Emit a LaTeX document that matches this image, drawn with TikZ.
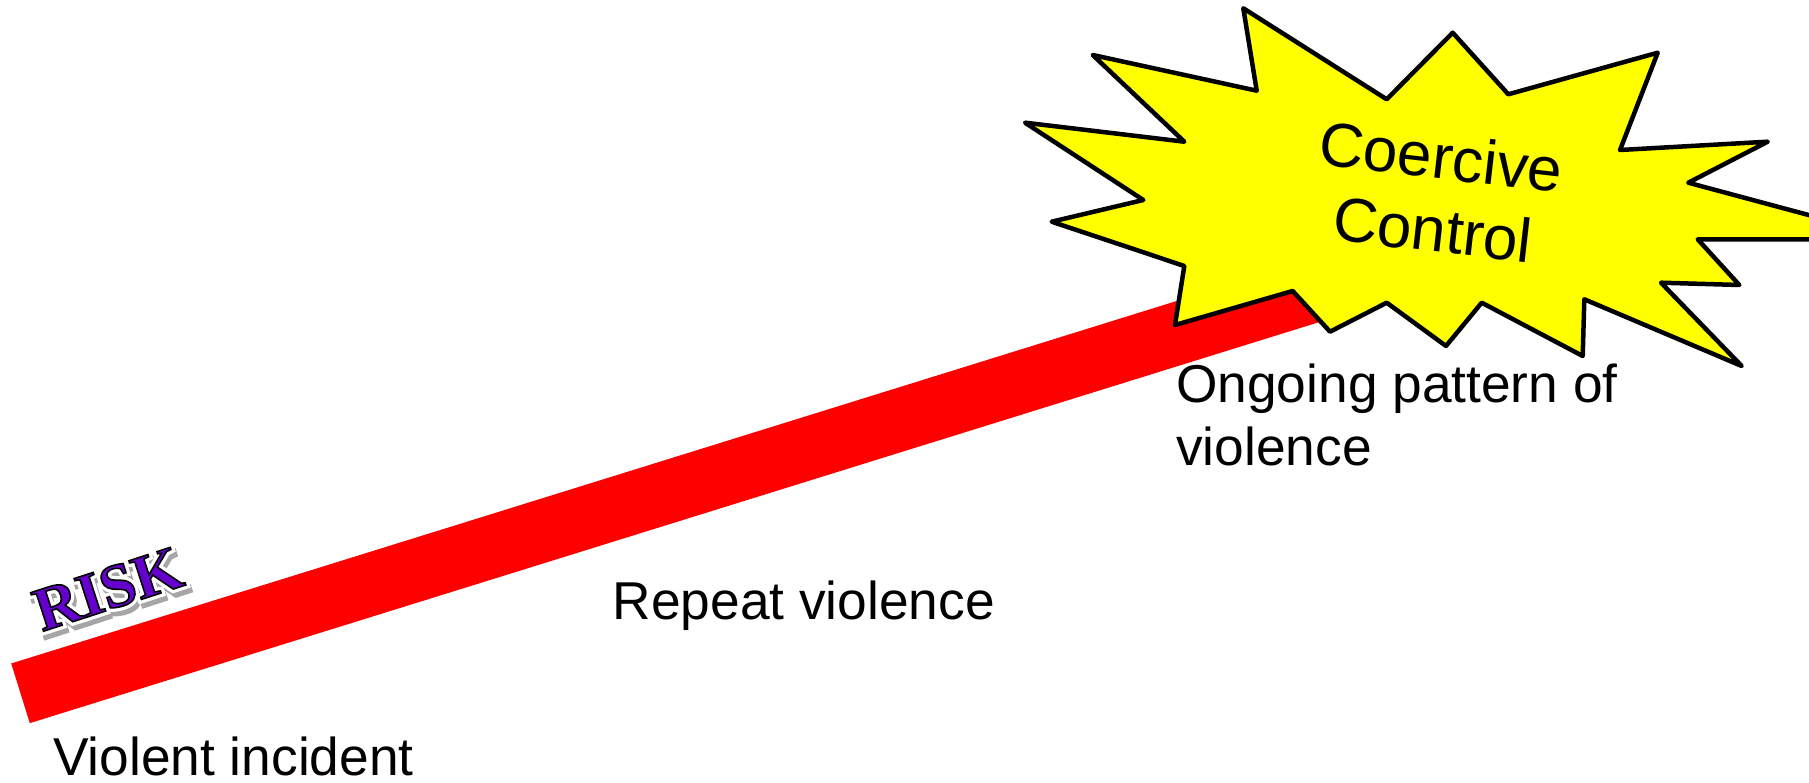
\documentclass[tikz,border=0pt]{standalone}
\usepackage{fontspec}
\setmainfont{Liberation Sans}
\newfontfamily\riskfont{Liberation Serif}
\usepackage{xcolor}
\usepackage{tikz}
\usetikzlibrary{positioning}

\definecolor{barred}{RGB}{255,0,0}
\definecolor{burst}{RGB}{255,255,0}
\definecolor{riskpurple}{RGB}{102,0,204}

% outlined text: stroke colour, line width, render mode
\newcommand{\strokedtext}[4]{%
  \special{pdf:literal direct #1 RG #2 w #3 Tr}#4\special{pdf:literal direct 0 Tr}}

\begin{document}
\begin{tikzpicture}[
    x=1pt, y=-1pt,
    label/.style={
        inner sep=0pt,
        anchor=base west,
        font=\fontsize{53.3}{62}\selectfont
    },
    riskword/.style={
        inner sep=0pt,
        rotate=18,
        font=\riskfont\bfseries\fontsize{62}{62}\selectfont
    },
    burstline/.style={draw=black, line width=4.5pt, line join=round, fill=burst}
]
\useasboundingbox (0,0) rectangle (1809,783);
\clip (0,0) rectangle (1809,783);

% rising risk bar
\coordinate (barstart) at (20.5,693.3);
\coordinate (barend) at (1350,279.8);
\draw[barred, line width=62.5pt] (barstart) -- (barend);

% RISK word art: shadow, white glow, outlined fill
\coordinate (risk) at (108,589);
\node[riskword, text=black!35] (riskshadow) at ([shift={(3,5)}]risk)
    {\strokedtext{0.65 0.65 0.65}{7}{2}{RISK}};
\node[riskword, text=white] (riskglow) at (risk)
    {\strokedtext{1 1 1}{8}{2}{RISK}};
\node[riskword, text=riskpurple] (riskword) at (risk)
    {\strokedtext{0 0 0}{1.6}{2}{RISK}};

% coercive control burst
\draw[burstline] (1243.3,8.3) -- (1386.7,99.3) -- (1452.7,32.7) -- (1508.3,94.3)
    -- (1657.7,52.7) -- (1620,150) -- (1767.7,141.7) -- (1688.3,182.7)
    -- (1899,239.3) -- (1697.7,239.3) -- (1739.3,285) -- (1661,282.7)
    -- (1741.7,366) -- (1584.3,299.3) -- (1582.7,356) -- (1481.7,302.7)
    -- (1446,346) -- (1386.7,302.7) -- (1330,331.7) -- (1292.7,291)
    -- (1175,325) -- (1184.3,266) -- (1051.7,221.7) -- (1143.3,200)
    -- (1025,122.7) -- (1184.3,141.7) -- (1092.7,55) -- (1256.7,90.7) -- cycle;

\node[rotate=-6.5, align=center, inner sep=0pt,
      font=\fontsize{62}{73}\selectfont] (coercive) at (1437,193) {Coercive\\Control};

% stage labels
\node[label] (incident) at (53,775) {Violent incident};
\node[label] (repeat) at (612.5,619.3) {Repeat violence};
\node[label] (ongoing) at (1176,402.7) {Ongoing pattern of};
\node[label, below=62.3pt of ongoing.base west, anchor=base west] (pattern) {violence};

\end{tikzpicture}
\end{document}
